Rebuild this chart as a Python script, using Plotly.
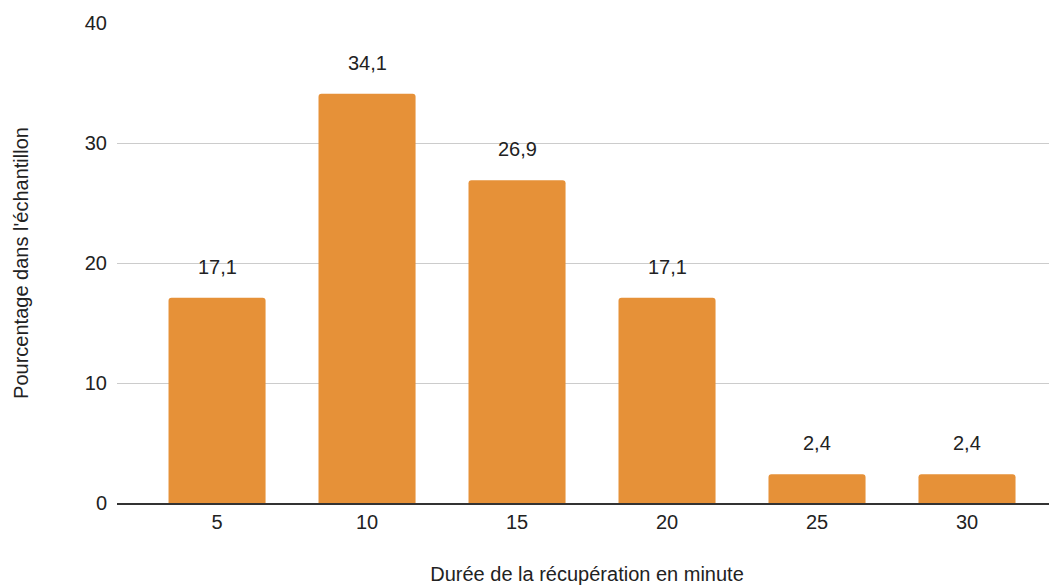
import plotly.graph_objects as go

categories = ["5", "10", "15", "20", "25", "30"]
values = [17.1, 34.1, 26.9, 17.1, 2.4, 2.4]
labels = ["17,1", "34,1", "26,9", "17,1", "2,4", "2,4"]
y_ticks = [0, 10, 20, 30, 40]

FONT = "Liberation Sans, Arial, sans-serif"
TXT = "#222222"

fig = go.Figure()
fig.add_trace(go.Bar(
    x=categories, y=values,
    marker=dict(color="#E69138", line=dict(width=0)),
    hoverinfo="skip",
))

for i, (v, t) in enumerate(zip(values, labels)):
    fig.add_annotation(x=i, y=v, text=t, showarrow=False, yshift=31,
                       font=dict(family=FONT, size=20, color=TXT))

fig.update_layout(
    width=1049, height=577,
    margin=dict(l=109, r=0, t=15, b=82),
    paper_bgcolor="white", plot_bgcolor="white",
    bargap=0.353,
    barcornerradius=3,
    showlegend=False,
    font=dict(family=FONT, color=TXT),
    xaxis=dict(
        type="category", range=[-0.667, 5.6],
        showgrid=False, showline=True, linecolor="#333333", linewidth=1.5,
        ticks="", tickfont=dict(size=20, color=TXT),
        title=dict(text="Durée de la récupération en minute",
                   font=dict(size=20, color=TXT), standoff=35),
    ),
    yaxis=dict(
        range=[0, 40], tickvals=y_ticks,
        showgrid=True, gridcolor="#cccccc", gridwidth=1,
        zeroline=False, showline=False, ticks="",
        ticklabelstandoff=9,
        tickfont=dict(size=20, color=TXT),
        title=dict(text="Pourcentage dans l'échantillon",
                   font=dict(size=20, color=TXT), standoff=50),
    ),
)

fig.write_html("out.html")
